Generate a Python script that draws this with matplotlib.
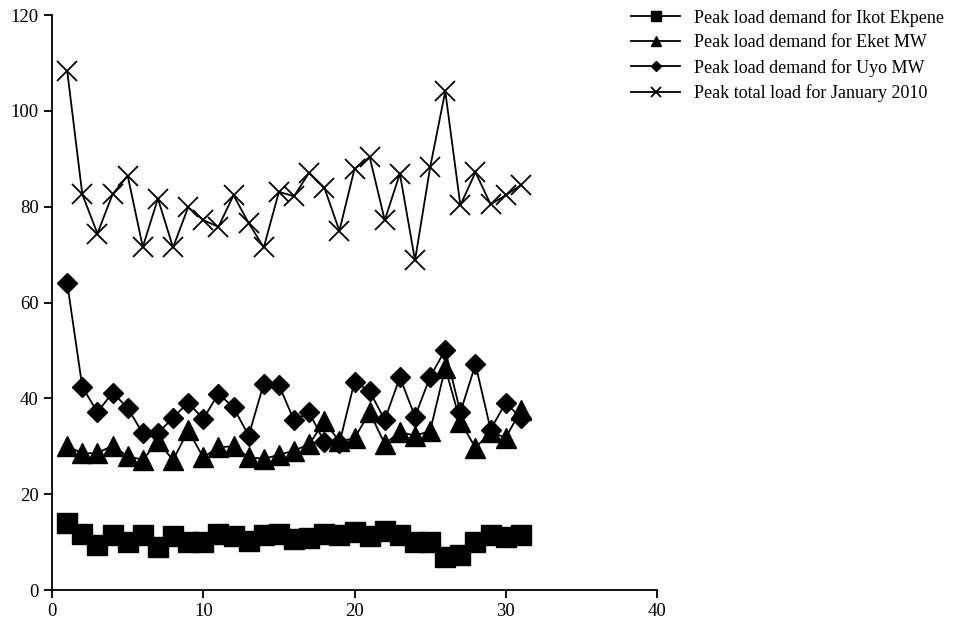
import numpy as np
import matplotlib.pyplot as plt

plt.rcParams['font.family'] = ['Liberation Serif', 'DejaVu Serif']

# Day of month, January 2010
days = np.arange(1, 32)

# Peak load values (MW)
ikot_ekpene = [14.0, 11.7, 9.3, 11.4, 10.1, 11.4, 9.0, 11.2, 10.0, 10.1,
               11.7, 11.2, 10.3, 11.4, 11.7, 10.7, 10.8, 11.7, 11.4, 12.1,
               11.2, 12.3, 11.4, 10.1, 10.1, 6.9, 7.4, 10.0, 11.4, 11.1, 11.4]
eket = [30.1, 28.5, 28.6, 30.1, 27.9, 27.2, 31.0, 27.1, 33.3, 27.7,
        29.8, 30.0, 27.7, 27.4, 28.2, 29.1, 30.4, 35.2, 31.0, 31.7,
        37.1, 30.5, 33.0, 32.2, 33.2, 46.4, 35.1, 29.7, 33.0, 31.8, 37.5]
uyo = [64.1, 42.4, 37.1, 41.2, 38.0, 32.7, 32.7, 36.0, 39.1, 35.7,
       41.0, 38.1, 32.2, 43.1, 42.8, 35.4, 37.1, 30.9, 30.6, 43.5,
       41.5, 35.5, 44.4, 36.2, 44.5, 50.1, 37.1, 47.1, 33.5, 39.1, 35.9]
total = [108.4, 82.6, 74.4, 82.6, 86.5, 71.6, 81.7, 71.5, 79.9, 77.2,
         75.8, 82.4, 76.6, 71.5, 83.1, 82.2, 87.1, 84.0, 75.0, 87.9,
         90.4, 77.2, 86.9, 68.8, 88.2, 104.1, 80.3, 87.2, 80.5, 82.4, 84.5]

labels = ['Peak load demand for Ikot Ekpene',
          'Peak load demand for Eket MW',
          'Peak load demand for Uyo MW',
          'Peak total load for January 2010']

fig = plt.figure(figsize=(9.64, 6.29), dpi=100)
ax = fig.add_axes([0.054, 0.062, 0.6275, 0.914])

lw = 1.3
ax.plot(days, ikot_ekpene, color='black', lw=lw, marker='s', ms=14, label=labels[0])
ax.plot(days, eket, color='black', lw=lw, marker='^', ms=14, label=labels[1])
ax.plot(days, uyo, color='black', lw=lw, marker='D', ms=10, label=labels[2])
ax.plot(days, total, color='black', lw=lw, marker='x', ms=14, mew=1.3, label=labels[3])

ax.set_xlim(0, 40)
ax.set_ylim(0, 120)
ax.set_xticks([0, 10, 20, 30, 40])
ax.set_yticks([0, 20, 40, 60, 80, 100, 120])
ax.spines['top'].set_visible(False)
ax.spines['right'].set_visible(False)
ax.spines['left'].set_linewidth(1.3)
ax.spines['bottom'].set_linewidth(1.3)
ax.tick_params(direction='out', length=6, width=1.3, labelsize=13.5, colors='black')

fig.legend(loc='upper left', bbox_to_anchor=(0.638, 1.012), frameon=False,
           fontsize=13, markerscale=0.55, handlelength=2.7, handletextpad=0.8,
           labelspacing=0.42)

fig.savefig('out.png', dpi=100)
